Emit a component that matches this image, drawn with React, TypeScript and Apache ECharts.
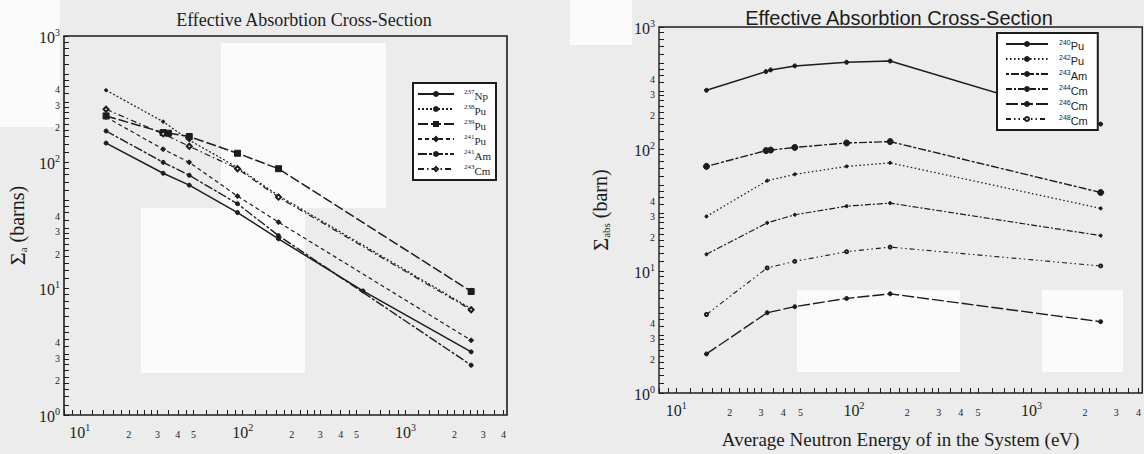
import React, { useEffect, useRef } from "react";
import * as echarts from "echarts";

// ---------- data ----------
// Left panel: effective absorption cross-section (barns) vs average neutron energy (eV)
const np237E = [14.5, 32.5, 47, 93, 166, 548, 2530];
const np237V = [142, 82, 66, 40, 24.8, 9.6, 3.16];
const pu238E = [14.5, 32.5, 47, 93, 166, 2530];
const pu238V = [372, 210, 150, 91, 54.5, 6.95];
const pu239E = [14.5, 32.5, 35, 47, 93, 166, 2530];
const pu239V = [233, 172, 170, 160, 118, 89, 9.5];
const pu241E = [14.5, 32.5, 47, 93, 166, 2530];
const pu241V = [228, 127, 100, 54, 33.6, 3.9];
const am241E = [14.5, 32.5, 47, 93, 166, 2530];
const am241V = [177, 100, 79, 47, 26.3, 2.48];
const cm243E = [14.5, 32.5, 47, 93, 166, 2530];
const cm243V = [263, 168, 134, 89, 53, 6.8];

// Right panel
const pu240E = [14.8, 32, 34, 46.5, 91, 160, 2450];
const pu240V = [303, 431, 445, 480, 514, 526, 160];
const am243E = [14.8, 32, 34, 46.5, 91, 160, 2450];
const am243V = [72, 97, 98, 103, 112, 115, 44];
const pu242E = [14.8, 32.5, 46.5, 91, 160, 2450];
const pu242V = [28, 55, 62, 72, 77, 32.6];
const cm244E = [14.8, 32.5, 46.5, 91, 160, 2450];
const cm244V = [13.7, 24.8, 28.9, 34, 36, 19.5];
const cm246E = [14.8, 32.5, 46.5, 91, 160, 2450];
const cm246V = [2.09, 4.55, 5.1, 5.96, 6.5, 3.84];
const cm248E = [14.8, 32.5, 46.5, 91, 160, 2450];
const cm248V = [4.4, 10.6, 12, 14.4, 15.7, 11];

const leftNames = ["237Np", "238Pu", "239Pu", "241Pu", "241Am", "243Cm"];
const rightNames = ["240Pu", "242Pu", "243Am", "244Cm", "246Cm", "248Cm"];

const titleText = "Effective Absorbtion Cross-Section";
const xNameRight = "Average Neutron Energy of in the System (eV)";

// axis ranges (eV, barns)
const xMinE = 8;
const xMaxE = 4200;
const yMinV = 1;
const yMaxV = 1000;

// tick mantissas
const tickMant = [1, 1.2, 1.4, 1.6, 1.8, 2, 2.25, 2.5, 2.75, 3, 3.5, 4, 4.5, 5, 6, 7, 8, 9];
const xLabelMant = [1, 2, 3, 4, 5];
const yLabelMant = [1, 2, 3, 4];

// ---------- helpers ----------
const L = Math.log10;
const SERIF = '"Liberation Serif", "DejaVu Serif", serif';
const SANS = '"Liberation Sans", "DejaVu Sans", sans-serif';
const INK = "#1c1c1c";

function valuesIn(minV: number, maxV: number, mants: number[]) {
  const out: number[] = [];
  for (let d = -1; d <= 4; d++) {
    for (const m of mants) {
      const v = L(m) + d;
      if (v >= L(minV) - 1e-9 && v <= L(maxV) + 1e-9) out.push(v);
    }
  }
  return out;
}

function fmtLog(v: number) {
  const d = Math.floor(v + 1e-6);
  const m = Math.round(Math.pow(10, v - d));
  return m === 1 ? `{d|10}{e|${d}}` : `{m|${m}}`;
}

function fmtLegend(name: string) {
  const m = name.match(/^(\d+)(.*)$/);
  return m ? `{s|${m[1]}}{e|${m[2]}}` : name;
}

function mk(
  name: string,
  E: number[],
  V: number[],
  idx: number,
  dash: any,
  width: number,
  symbol: string,
  size: number
) {
  return {
    name,
    type: "line",
    xAxisIndex: idx,
    yAxisIndex: idx,
    data: E.map((e, i) => [L(e), L(V[i])]),
    symbol,
    symbolSize: size,
    showSymbol: true,
    lineStyle: { color: INK, width, type: dash },
    itemStyle: { color: INK, borderColor: INK, borderWidth: 1 },
    emphasis: { disabled: true },
    z: 3,
  };
}

const axisRich = {
  d: { fontSize: 16, lineHeight: 18, fontFamily: SERIF, color: INK, verticalAlign: "bottom" },
  e: { fontSize: 10, lineHeight: 10, fontFamily: SERIF, color: INK, verticalAlign: "top" },
  m: { fontSize: 10, lineHeight: 17, fontFamily: SERIF, color: INK, verticalAlign: "bottom" },
};

function xAxisCfg(grid: number, name: string) {
  return {
    type: "value",
    gridIndex: grid,
    min: L(xMinE),
    max: L(xMaxE),
    name,
    nameLocation: "middle",
    nameGap: 37,
    nameTextStyle: { fontFamily: SERIF, fontSize: 19, color: INK, padding: [0, 0, 0, 0] },
    axisLine: { show: false },
    axisTick: {
      show: true,
      inside: true,
      length: 5,
      customValues: valuesIn(xMinE, xMaxE, tickMant),
      lineStyle: { color: INK, width: 1 },
    },
    axisLabel: {
      show: true,
      customValues: valuesIn(xMinE, xMaxE, xLabelMant),
      formatter: fmtLog,
      margin: 7,
      rich: axisRich,
    },
    splitLine: { show: false },
  };
}

function yAxisCfg(grid: number, nameRich: string, gap: number) {
  return {
    type: "value",
    gridIndex: grid,
    min: L(yMinV),
    max: L(yMaxV),
    name: nameRich,
    nameLocation: "middle",
    nameGap: gap,
    nameTextStyle: {
      fontFamily: SERIF,
      fontSize: 20,
      color: INK,
      rich: {
        g: { fontSize: 22, fontFamily: SERIF, color: INK },
        sub: { fontSize: 11, fontFamily: SERIF, color: INK, verticalAlign: "bottom", padding: [8, 0, 0, 0] },
        t: { fontSize: 20, fontFamily: SERIF, color: INK },
      },
    },
    axisLine: { show: false },
    axisTick: {
      show: true,
      inside: true,
      length: 5,
      customValues: valuesIn(yMinV, yMaxV, tickMant),
      lineStyle: { color: INK, width: 1 },
    },
    axisLabel: {
      show: true,
      customValues: valuesIn(yMinV, yMaxV, yLabelMant),
      formatter: fmtLog,
      margin: 4,
      rich: axisRich,
    },
    splitLine: { show: false },
  };
}

function legendCfg(names: string[], left: number, top: number, font: string, iw: number, pad: number[], textPad: number) {
  return {
    data: names,
    orient: "vertical",
    left,
    top,
    itemWidth: iw,
    itemHeight: 5,
    itemGap: 1,
    padding: pad,
    borderColor: INK,
    borderWidth: 2,
    backgroundColor: "#ffffff",
    selectedMode: false,
    formatter: fmtLegend,
    textStyle: {
      fontFamily: font,
      fontSize: 11,
      color: INK,
      rich: {
        s: { fontSize: 7, lineHeight: 8, fontFamily: font, color: INK, verticalAlign: "top", padding: [0, 0, 0, textPad] },
        e: { fontSize: 11, lineHeight: 11, fontFamily: font, color: INK, padding: [3, 0, 0, 0] },
      },
    },
    z: 6,
  };
}

const patch = (x: number, y: number, w: number, h: number) => ({
  type: "rect",
  shape: { x, y, width: w, height: h },
  style: { fill: "#fbfbfb" },
  silent: true,
  z: -10,
});

export default function App() {
  const ref = useRef<HTMLDivElement>(null);

  useEffect(() => {
    if (!ref.current) return;
    const chart = echarts.init(ref.current, null, { renderer: "svg" });

    const option: any = {
      animation: false,
      backgroundColor: "#ececec",
      textStyle: { fontFamily: SERIF, color: INK },
      title: [
        {
          text: titleText,
          left: 299,
          top: 6,
          textAlign: "center",
          textStyle: { fontFamily: SERIF, fontSize: 18, fontWeight: "normal", color: INK },
        },
        {
          text: titleText,
          left: 894,
          top: 3,
          textAlign: "center",
          textStyle: { fontFamily: SANS, fontSize: 20, fontWeight: "normal", color: INK },
        },
      ],
      graphic: [
        patch(141, 208, 164, 165),
        patch(221, 43, 165, 165),
        patch(797, 290, 163, 82),
        patch(1042, 290, 81, 82),
        patch(570, 0, 62, 45),
        patch(0, 0, 60, 127),
      ],
      grid: [
        { left: 64, top: 36, width: 443, height: 379, show: true, borderColor: INK, borderWidth: 1.6, backgroundColor: "transparent" },
        { left: 659, top: 27, width: 491, height: 371, show: true, borderColor: INK, borderWidth: 1.4, backgroundColor: "transparent" },
      ],
      xAxis: [xAxisCfg(0, ""), xAxisCfg(1, xNameRight)],
      yAxis: [
        yAxisCfg(0, "{g|Σ}{sub|a}{t| (barns)}", 36),
        yAxisCfg(1, "{g|Σ}{sub|abs}{t| (barn)}", 48),
      ],
      legend: [
        legendCfg(leftNames, 413, 83, SERIF, 36, [4, 5, 4, 4], 5),
        legendCfg(rightNames, 997, 33, SANS, 42, [4, 10, 4, 8], 6),
      ],
      series: [
        mk("237Np", np237E, np237V, 0, "solid", 1.5, "circle", 4),
        mk("238Pu", pu238E, pu238V, 0, [2, 2], 1.2, "circle", 3),
        mk("239Pu", pu239E, pu239V, 0, [10, 3], 1.5, "rect", 6),
        mk("241Pu", pu241E, pu241V, 0, [4, 3], 1.2, "diamond", 5),
        mk("241Am", am241E, am241V, 0, [9, 2, 3, 2], 1.4, "circle", 4),
        mk("243Cm", cm243E, cm243V, 0, [6, 3, 1.5, 3], 1.2, "emptyDiamond", 5),
        mk("240Pu", pu240E, pu240V, 1, "solid", 1.5, "circle", 4),
        mk("242Pu", pu242E, pu242V, 1, [1.5, 2.5], 1.3, "circle", 3),
        mk("243Am", am243E, am243V, 1, [3, 2, 8, 2], 1.4, "circle", 6),
        mk("244Cm", cm244E, cm244V, 1, [6, 2, 2, 2], 1.2, "circle", 3),
        mk("246Cm", cm246E, cm246V, 1, [12, 3], 1.4, "circle", 4),
        mk("248Cm", cm248E, cm248V, 1, [5, 3, 1.5, 3, 1.5, 3], 1.1, "emptyCircle", 3),
      ],
    };

    chart.setOption(option);
    return () => {
      chart.dispose();
    };
  }, []);

  return (
    <div
      ref={ref}
      style={{ position: "fixed", left: 0, top: 0, width: 1144, height: 454 }}
    />
  );
}
